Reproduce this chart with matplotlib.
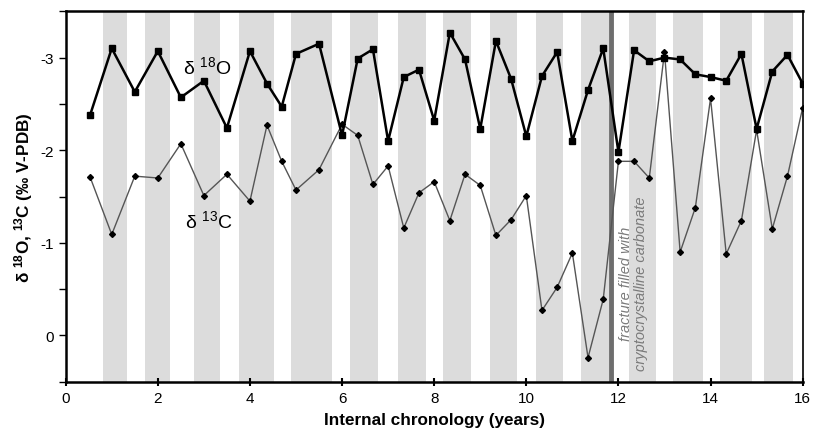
import matplotlib
matplotlib.use('Agg')
import matplotlib.pyplot as plt

plt.rcParams['font.family'] = ['Liberation Sans', 'DejaVu Sans']
plt.rcParams['mathtext.fontset'] = 'custom'
plt.rcParams['mathtext.rm'] = 'Liberation Sans'
plt.rcParams['mathtext.bf'] = 'Liberation Sans:bold'
plt.rcParams['axes.unicode_minus'] = False

# internal chronology (years)
years = [0.53, 1.0, 1.5, 2.0, 2.5, 3.0, 3.5, 4.0, 4.37, 4.69, 5.0, 5.5,
         6.0, 6.34, 6.67, 7.0, 7.34, 7.67, 8.0, 8.34, 8.67, 9.0, 9.34, 9.67,
         10.0, 10.34, 10.67, 11.0, 11.34, 11.67, 12.0, 12.34, 12.67, 13.0,
         13.34, 13.67, 14.0, 14.34, 14.67, 15.0, 15.34, 15.67, 16.0]

d18O = [-2.38, -3.10, -2.63, -3.07, -2.57, -2.75, -2.24, -3.07, -2.72, -2.47,
        -3.04, -3.15, -2.16, -2.99, -3.09, -2.10, -2.79, -2.87, -2.32, -3.27,
        -2.98, -2.23, -3.18, -2.77, -2.15, -2.80, -3.06, -2.10, -2.65, -3.10,
        -1.98, -3.08, -2.96, -3.00, -2.98, -2.82, -2.79, -2.75, -3.04, -2.23,
        -2.85, -3.03, -2.72]

d13C = [-1.71, -1.09, -1.72, -1.70, -2.07, -1.51, -1.74, -1.45, -2.27, -1.88,
        -1.57, -1.79, -2.28, -2.16, -1.63, -1.83, -1.16, -1.54, -1.66, -1.24,
        -1.74, -1.62, -1.08, -1.25, -1.51, -0.27, -0.52, -0.89, 0.24, -0.39,
        -1.88, -1.88, -1.70, -3.06, -0.90, -1.38, -2.56, -0.88, -1.24, -2.22,
        -1.15, -1.72, -2.46]

# shaded intervals
bands = [(0.82, 1.33), (1.73, 2.27), (2.78, 3.34), (3.77, 4.53), (4.90, 5.79),
         (6.18, 6.77), (7.22, 7.82), (8.20, 8.79), (9.21, 9.80), (10.22, 10.80),
         (11.18, 11.80), (12.24, 12.82), (13.18, 13.83), (14.21, 14.90),
         (15.17, 15.79)]

fracture_x = 11.83

fig = plt.figure(figsize=(8.13, 4.35), dpi=100)
ax = fig.add_axes([0.0808, 0.1202, 0.9065, 0.8515])

for a, b in bands:
    ax.axvspan(a, b, color='#dcdcdc', lw=0, zorder=0)

ax.axvline(fracture_x, color='#6e6e6e', lw=3.5, zorder=1)

ax.plot(years, d13C, color='#555555', lw=1.0, zorder=2)
ax.plot(years, d13C, ls='none', marker='D', ms=3.0, color='black', zorder=3)
ax.plot(years, d18O, color='black', lw=1.8, marker='s', ms=4, zorder=4)

ax.set_xlim(0, 16)
ax.set_ylim(0.5, -3.5)
ax.set_xticks(range(0, 17, 2))
ax.set_yticks([-3, -2, -1, 0])
ax.set_yticks([-3.5, -2.5, -1.5, -0.5, 0.5], minor=True)
ax.tick_params(axis='x', direction='inout', length=6, width=1.5, labelsize=11)
ax.tick_params(axis='y', which='both', direction='out', length=5, width=1, labelsize=11)

for s in ['top', 'bottom', 'left']:
    ax.spines[s].set_linewidth(1.8)
ax.spines['right'].set_linewidth(1.2)

ax.set_xlabel('Internal chronology (years)', fontsize=12.3, fontweight='bold', labelpad=5)
ax.set_ylabel(r'δ $\mathbf{^{18}}$O, $\mathbf{^{13}}$C (‰ V-PDB)',
              fontsize=12.3, fontweight='bold', labelpad=4)

ax.text(2.55, -2.9, r'δ $^{18}$O', fontsize=14, va='center', ha='left', zorder=5)
ax.text(2.58, -1.24, r'δ $^{13}$C', fontsize=14, va='center', ha='left', zorder=5)

ax.text(12.32, -0.57, 'fracture filled with\ncryptocrystalline carbonate',
        rotation=90, style='italic', color='#7a7a7a', fontsize=10.5,
        ha='center', va='center', linespacing=1.1, zorder=5)

fig.savefig('out.png', dpi=100)
